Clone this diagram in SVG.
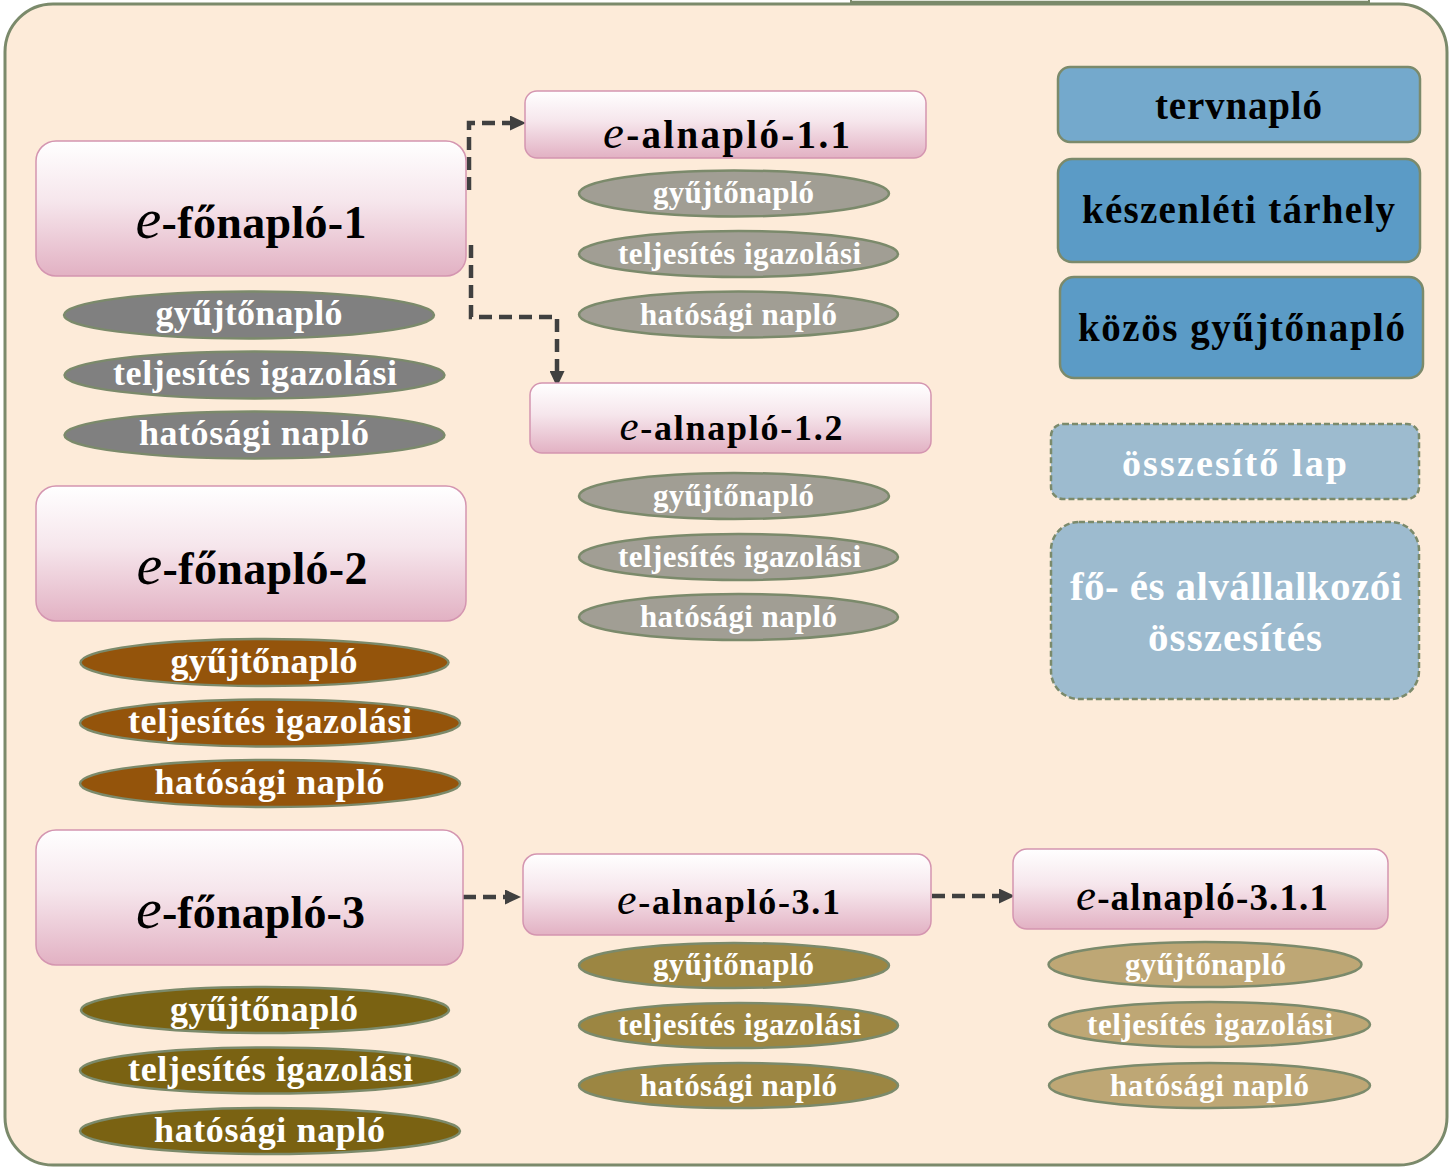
<svg xmlns="http://www.w3.org/2000/svg" width="1453" height="1167" viewBox="0 0 1453 1167">
<defs>
<linearGradient id="pink" x1="0" y1="0" x2="0" y2="1">
<stop offset="0" stop-color="#ffffff"/>
<stop offset="0.45" stop-color="#f6e6ec"/>
<stop offset="1" stop-color="#e2b1c3"/>
</linearGradient>
<marker id="arr" markerUnits="userSpaceOnUse" markerWidth="16" markerHeight="15" viewBox="0 0 16 15" refX="0" refY="7.5" orient="auto">
<path d="M0,0 L16,7.5 L0,15 z" fill="#404040"/>
</marker>
<style>
.f{font-family:"Liberation Serif","Times New Roman",serif;font-weight:bold;text-anchor:middle}
.pk{fill:url(#pink);stroke:#d495b0;stroke-width:1.5}
.tt{fill:#000}
.e{font-style:italic;font-weight:normal}
.pl{stroke:#7b8a6b;stroke-width:2.5}
.pt{fill:#ffffff}
.g1{fill:#808080}
.g2{fill:#a19e94}
.br{fill:#94540b}
.ol{fill:#7a6212}
.o2{fill:#9c8642}
.o3{fill:#bea775}
.bl{stroke:#7b8a6b;stroke-width:2.5}
.dsh{fill:#9dbbcf;stroke:#7b8a6b;stroke-width:2.5;stroke-dasharray:6 3}
.cn{fill:none;stroke:#404040;stroke-width:4.5;stroke-dasharray:13 7;marker-end:url(#arr)}
.s36{font-size:36px}
.s31{font-size:31px}
.s39{font-size:39px}
</style>
</defs>

<rect x="851" y="-6" width="518" height="8" fill="#dfe3d8" stroke="#7b8a6b" stroke-width="2"/>
<rect id="container" x="5" y="4" width="1442" height="1161" rx="48" fill="#fdebd9" stroke="#7b8a6b" stroke-width="3"/>

<g id="connectors">
<path class="cn" d="M469,190 V123 H510"/>
<path class="cn" d="M471,245 V317 H557 V371"/>
<path class="cn" d="M463,897 H505"/>
<path class="cn" d="M932,896 H999"/>
</g>

<g id="fonaplo-1">
<rect class="pk" x="36" y="141" width="430" height="135" rx="20"/>
<text class="f tt" x="251" y="238" font-size="46" textLength="231"><tspan class="e" font-size="58">e</tspan>-főnapló-1</text>
</g>
<g id="fonaplo-1-gyujto"><ellipse class="pl g1" cx="249" cy="315" rx="185" ry="23.5"/><text class="f pt s36" x="249" y="325" textLength="187">gyűjtőnapló</text></g>
<g id="fonaplo-1-telj"><ellipse class="pl g1" cx="254.5" cy="375" rx="190" ry="23.5"/><text class="f pt s36" x="255" y="385" textLength="284">teljesítés igazolási</text></g>
<g id="fonaplo-1-hat"><ellipse class="pl g1" cx="254.5" cy="435" rx="190" ry="23.5"/><text class="f pt s36" x="254" y="445" textLength="230">hatósági napló</text></g>

<g id="fonaplo-2">
<rect class="pk" x="36" y="486" width="430" height="135" rx="20"/>
<text class="f tt" x="252" y="584" font-size="46" textLength="231"><tspan class="e" font-size="58">e</tspan>-főnapló-2</text>
</g>
<g id="fonaplo-2-gyujto"><ellipse class="pl br" cx="264.5" cy="662.5" rx="184" ry="23.5"/><text class="f pt s36" x="264" y="673" textLength="187">gyűjtőnapló</text></g>
<g id="fonaplo-2-telj"><ellipse class="pl br" cx="270" cy="723" rx="190" ry="23.5"/><text class="f pt s36" x="270" y="733" textLength="284">teljesítés igazolási</text></g>
<g id="fonaplo-2-hat"><ellipse class="pl br" cx="270" cy="783.5" rx="190" ry="23.5"/><text class="f pt s36" x="269.5" y="794" textLength="230">hatósági napló</text></g>

<g id="fonaplo-3">
<rect class="pk" x="36" y="830" width="427" height="135" rx="20"/>
<text class="f tt" x="250.5" y="928" font-size="46" textLength="229"><tspan class="e" font-size="58">e</tspan>-főnapló-3</text>
</g>
<g id="fonaplo-3-gyujto"><ellipse class="pl ol" cx="265" cy="1010" rx="184" ry="23"/><text class="f pt s36" x="264" y="1021" textLength="188">gyűjtőnapló</text></g>
<g id="fonaplo-3-telj"><ellipse class="pl ol" cx="270" cy="1070.5" rx="190" ry="23"/><text class="f pt s36" x="270.5" y="1081" textLength="285">teljesítés igazolási</text></g>
<g id="fonaplo-3-hat"><ellipse class="pl ol" cx="270" cy="1131" rx="190" ry="23"/><text class="f pt s36" x="269.5" y="1142" textLength="231">hatósági napló</text></g>

<g id="alnaplo-1-1">
<rect class="pk" x="525" y="91" width="401" height="67" rx="12"/>
<text class="f tt" x="726.5" y="148" font-size="39" textLength="247"><tspan class="e" font-size="47">e</tspan>-alnapló-1.1</text>
</g>
<g id="alnaplo-1-1-gyujto"><ellipse class="pl g2" cx="734" cy="193.5" rx="155" ry="23"/><text class="f pt s31" x="733.5" y="203" textLength="161">gyűjtőnapló</text></g>
<g id="alnaplo-1-1-telj"><ellipse class="pl g2" cx="738.5" cy="254" rx="159.5" ry="23"/><text class="f pt s31" x="739.5" y="263.5" textLength="243">teljesítés igazolási</text></g>
<g id="alnaplo-1-1-hat"><ellipse class="pl g2" cx="738.5" cy="314.5" rx="159.5" ry="23"/><text class="f pt s31" x="738.5" y="324.5" textLength="197">hatósági napló</text></g>

<g id="alnaplo-1-2">
<rect class="pk" x="530" y="383" width="401" height="70" rx="12"/>
<text class="f tt" x="731" y="440" font-size="36" textLength="223"><tspan class="e" font-size="43">e</tspan>-alnapló-1.2</text>
</g>
<g id="alnaplo-1-2-gyujto"><ellipse class="pl g2" cx="734" cy="496" rx="155" ry="23"/><text class="f pt s31" x="733.5" y="505.5" textLength="161">gyűjtőnapló</text></g>
<g id="alnaplo-1-2-telj"><ellipse class="pl g2" cx="738.5" cy="557" rx="159.5" ry="23"/><text class="f pt s31" x="739.5" y="566.5" textLength="243">teljesítés igazolási</text></g>
<g id="alnaplo-1-2-hat"><ellipse class="pl g2" cx="738.5" cy="617" rx="159.5" ry="23"/><text class="f pt s31" x="738.5" y="627" textLength="197">hatósági napló</text></g>

<g id="alnaplo-3-1">
<rect class="pk" x="523" y="854" width="408" height="81" rx="14"/>
<text class="f tt" x="728.5" y="914" font-size="36" textLength="223"><tspan class="e" font-size="44">e</tspan>-alnapló-3.1</text>
</g>
<g id="alnaplo-3-1-gyujto"><ellipse class="pl o2" cx="734" cy="965.5" rx="155" ry="22.5"/><text class="f pt s31" x="733.5" y="975" textLength="161">gyűjtőnapló</text></g>
<g id="alnaplo-3-1-telj"><ellipse class="pl o2" cx="738.5" cy="1025.5" rx="159.5" ry="22.5"/><text class="f pt s31" x="739.5" y="1035" textLength="243">teljesítés igazolási</text></g>
<g id="alnaplo-3-1-hat"><ellipse class="pl o2" cx="738.5" cy="1085.5" rx="159.5" ry="22.5"/><text class="f pt s31" x="738.5" y="1095.5" textLength="197">hatósági napló</text></g>

<g id="alnaplo-3-1-1">
<rect class="pk" x="1013" y="849" width="375" height="80" rx="14"/>
<text class="f tt" x="1202" y="910" font-size="37" textLength="252"><tspan class="e" font-size="45">e</tspan>-alnapló-3.1.1</text>
</g>
<g id="alnaplo-3-1-1-gyujto"><ellipse class="pl o3" cx="1205" cy="964.5" rx="156.5" ry="22.5"/><text class="f pt s31" x="1205.5" y="974.5" textLength="161">gyűjtőnapló</text></g>
<g id="alnaplo-3-1-1-telj"><ellipse class="pl o3" cx="1209.5" cy="1024.5" rx="160.5" ry="22.5"/><text class="f pt s31" x="1210" y="1034.5" textLength="246">teljesítés igazolási</text></g>
<g id="alnaplo-3-1-1-hat"><ellipse class="pl o3" cx="1209.5" cy="1085.5" rx="160.5" ry="22.5"/><text class="f pt s31" x="1209.5" y="1095.5" textLength="199">hatósági napló</text></g>

<g id="tervnaplo">
<rect class="bl" x="1058" y="67" width="362" height="75" rx="12" fill="#74a9cc"/>
<text class="f tt s39" x="1238.5" y="119" textLength="167">tervnapló</text>
</g>
<g id="keszenleti-tarhely">
<rect class="bl" x="1058" y="159" width="362" height="103" rx="14" fill="#5b9bc6"/>
<text class="f tt s39" x="1238.5" y="223" textLength="313">készenléti tárhely</text>
</g>
<g id="kozos-gyujtonaplo">
<rect class="bl" x="1060" y="277" width="363" height="101" rx="14" fill="#5b9bc6"/>
<text class="f tt s39" x="1241.5" y="341" textLength="327">közös gyűjtőnapló</text>
</g>
<g id="osszesito-lap">
<rect class="dsh" x="1051" y="424" width="368" height="75" rx="12"/>
<text class="f pt" x="1234.5" y="476" font-size="38" textLength="225">összesítő lap</text>
</g>
<g id="fo-es-alvallalkozoi">
<rect class="dsh" x="1051" y="522" width="368" height="177" rx="28"/>
<text class="f pt" x="1236" y="600" font-size="41" textLength="332">fő- és alvállalkozói</text>
<text class="f pt" x="1235" y="651" font-size="41" textLength="174">összesítés</text>
</g>
</svg>
